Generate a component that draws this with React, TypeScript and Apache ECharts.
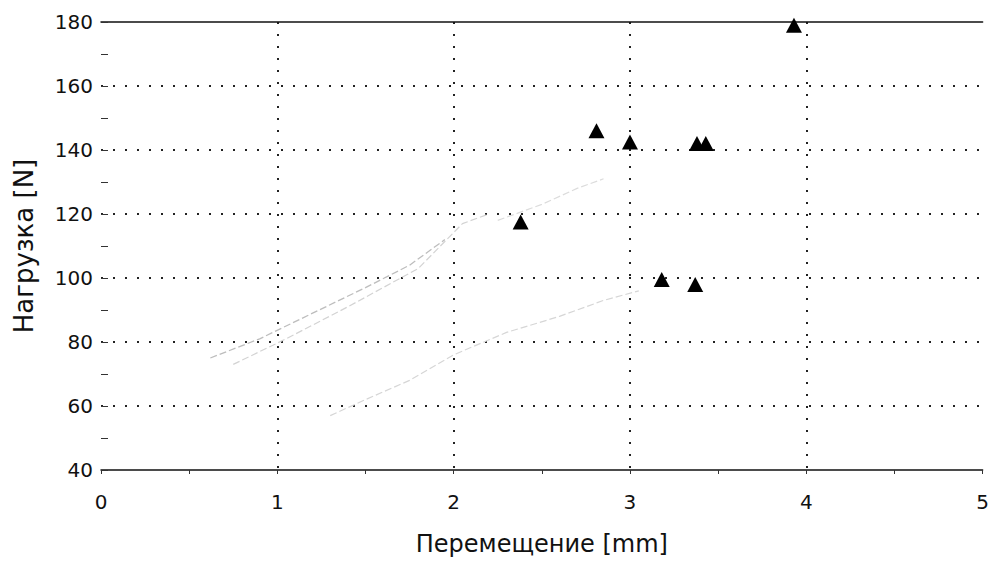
import React, { useEffect, useRef } from "react";
import * as echarts from "echarts";

const xTicks = [0, 1, 2, 3, 4, 5];
const yTicks = [40, 60, 80, 100, 120, 140, 160, 180];
const xTitle = "Перемещение [mm]";
const yTitle = "Нагрузка [N]";

// triangle markers
const triX = [2.38, 2.81, 3.0, 3.38, 3.43, 3.18, 3.37, 3.93];
const triY = [117.5, 146, 142.5, 142, 142, 99.5, 98, 179];

// faint load-displacement traces
const traceAX = [0.62, 0.9, 1.2, 1.5, 1.75, 1.95];
const traceAY = [75, 81, 89, 97, 104, 112];
const traceBX = [0.75, 1.05, 1.4, 1.8, 2.05, 2.2];
const traceBY = [73, 81, 91, 103, 117, 120];
const traceCX = [1.3, 1.5, 1.75, 2.0, 2.3, 2.6, 2.85, 3.05];
const traceCY = [57, 62, 68, 76, 83, 88, 93, 96];
const traceDX = [2.25, 2.5, 2.7, 2.85];
const traceDY = [118, 123, 128, 131];

const zip = (xs: number[], ys: number[]) => xs.map((x, i) => [x, ys[i]]);

export default function App() {
  const ref = useRef<HTMLDivElement>(null);
  useEffect(() => {
    if (!ref.current) return;
    const chart = echarts.init(ref.current, null, { renderer: "svg" });
    const font = "DejaVu Sans, Verdana, sans-serif";
    const dotted = { color: "#222", width: 2, type: [2, 10] as number[] };
    const traceStyle = (c: string, w: number) => ({
      type: "line",
      showSymbol: false,
      symbol: "none",
      lineStyle: { color: c, width: w, type: [7, 3] as number[] },
      z: 1,
    });
    chart.setOption({
      animation: false,
      backgroundColor: "#fff",
      grid: { left: 101, right: 3, top: 22, bottom: 99 },
      xAxis: [
        {
          type: "value",
          min: xTicks[0],
          max: xTicks[xTicks.length - 1],
          interval: 1,
          name: xTitle,
          nameLocation: "middle",
          nameGap: 62,
          nameTextStyle: { fontFamily: font, fontSize: 24, color: "#111" },
          axisLine: { show: true, lineStyle: { color: "#111", width: 1.5 } },
          axisTick: { show: true, inside: false, length: 4, lineStyle: { color: "#333" } },
          minorTick: { show: true, splitNumber: 2, length: 4, lineStyle: { color: "#333" } },
          axisLabel: { fontFamily: font, fontSize: 20, color: "#111", margin: 22 },
          splitLine: { show: true, showMinLine: false, showMaxLine: false, lineStyle: dotted },
        },
        {
          type: "value",
          position: "top",
          min: xTicks[0],
          max: xTicks[xTicks.length - 1],
          axisLine: { show: true, onZero: false, lineStyle: { color: "#111", width: 1.5 } },
          axisTick: { show: false },
          axisLabel: { show: false },
          splitLine: { show: false },
        },
      ],
      yAxis: {
        type: "value",
        min: yTicks[0],
        max: yTicks[yTicks.length - 1],
        interval: 20,
        name: yTitle,
        nameLocation: "middle",
        nameGap: 64,
        nameTextStyle: { fontFamily: font, fontSize: 26, color: "#111" },
        axisLine: { show: false },
        axisTick: { show: true, inside: true, length: 7, lineStyle: { color: "#333" } },
        minorTick: { show: true, splitNumber: 2, length: 7, lineStyle: { color: "#333" } },
        axisLabel: { fontFamily: font, fontSize: 20, color: "#111", margin: 8 },
        splitLine: { show: true, showMinLine: false, showMaxLine: false, lineStyle: dotted },
      },
      series: [
        { ...traceStyle("#bdbdbd", 1.3), data: zip(traceAX, traceAY) },
        { ...traceStyle("#d3d3d3", 1.2), data: zip(traceBX, traceBY) },
        { ...traceStyle("#d6d6d6", 1.2), data: zip(traceCX, traceCY) },
        { ...traceStyle("#dcdcdc", 1.2), data: zip(traceDX, traceDY) },
        {
          type: "scatter",
          symbol: "triangle",
          symbolSize: [16, 15],
          itemStyle: { color: "#000", opacity: 1 },
          data: zip(triX, triY),
          z: 5,
        },
      ],
    });
    return () => chart.dispose();
  }, []);
  return (
    <div
      ref={ref}
      style={{ position: "absolute", left: 0, top: 0, width: 992, height: 569 }}
    />
  );
}
